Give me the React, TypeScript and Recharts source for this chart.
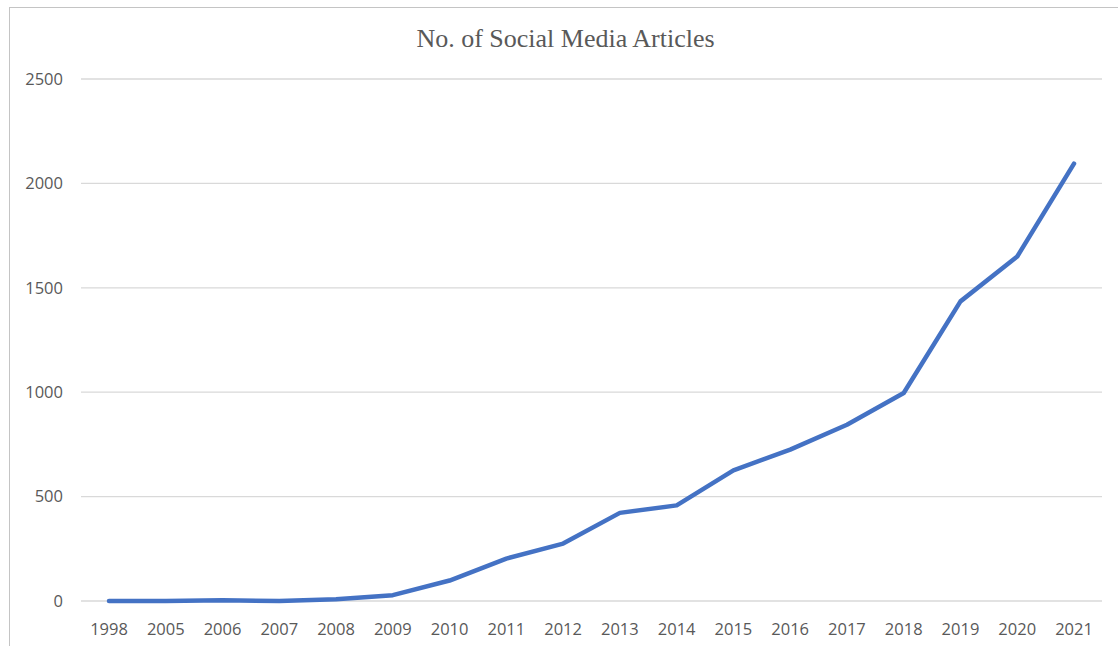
import { LineChart, Line, XAxis, YAxis, CartesianGrid } from "recharts";

const years = [
  "1998", "2005", "2006", "2007", "2008", "2009", "2010", "2011", "2012",
  "2013", "2014", "2015", "2016", "2017", "2018", "2019", "2020", "2021",
];
const articles = [0, 0, 4, 0, 8, 28, 98, 203, 275, 422, 458, 626, 725, 844, 996, 1435, 1650, 2095];
const yTicks = [0, 500, 1000, 1500, 2000, 2500];

const data = years.map((year, i) => ({ year, articles: articles[i] }));

const tickStyle = { fontFamily: "Open Sans", fontSize: 16.5, fill: "#595959" };

export default function App() {
  return (
    <div style={{ position: "absolute", left: 0, top: 0, width: 1118, height: 646, background: "#fff", overflow: "hidden" }}>
      <div
        style={{
          position: "absolute",
          left: 9,
          top: 7,
          width: 1118,
          height: 646,
          borderTop: "1.5px solid #C4C4C4",
          borderLeft: "1.5px solid #C4C4C4",
        }}
      />
      <div
        style={{
          position: "absolute",
          left: 0,
          top: 24,
          width: 1131,
          textAlign: "center",
          fontFamily: "'Liberation Serif', 'Times New Roman', serif",
          fontSize: 26,
          color: "#595959",
        }}
      >
        No. of Social Media Articles
      </div>
      <LineChart
        width={1118}
        height={646}
        data={data}
        margin={{ top: 79, right: 16, bottom: 14, left: 21 }}
        style={{ position: "absolute", left: 0, top: 0 }}
      >
        <CartesianGrid vertical={false} stroke="#D9D9D9" strokeWidth={1.3} />
        <XAxis
          dataKey="year"
          axisLine={false}
          tickLine={false}
          tick={tickStyle}
          tickMargin={16}
          height={31}
          interval={0}
          padding={{ left: 28, right: 28 }}
        />
        <YAxis
          domain={[0, 2500]}
          ticks={yTicks}
          axisLine={false}
          tickLine={false}
          tick={tickStyle}
          tickMargin={12}
          width={60}
        />
        <Line
          type="linear"
          dataKey="articles"
          stroke="#4472C4"
          strokeWidth={4.5}
          strokeLinecap="round"
          strokeLinejoin="round"
          dot={false}
          activeDot={false}
          isAnimationActive={false}
        />
      </LineChart>
    </div>
  );
}
